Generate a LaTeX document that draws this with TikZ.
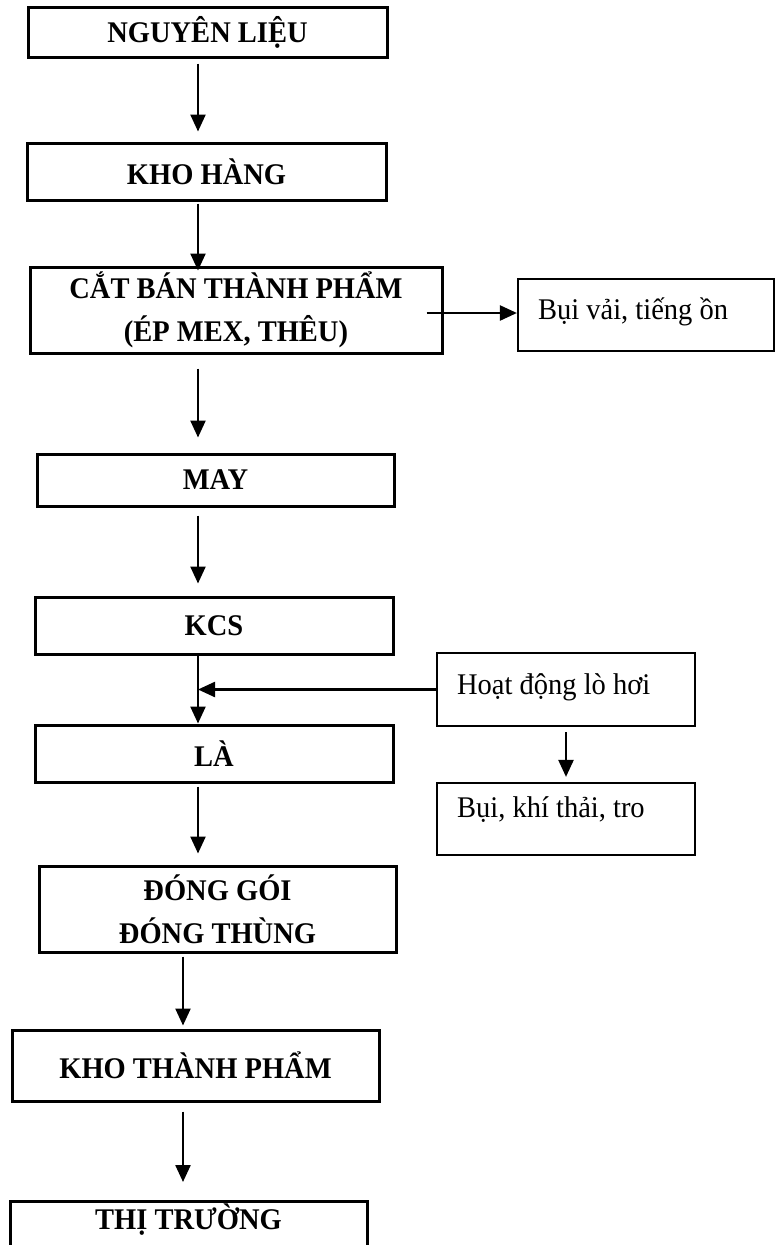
\documentclass[tikz,border=0pt]{standalone}
\usepackage{fontspec}
\setmainfont{Liberation Serif}[FakeStretch=0.95]
\usetikzlibrary{arrows.meta,calc}
\begin{document}
\begin{tikzpicture}[x=1pt,y=-1pt,
  mainbox/.style={draw, line width=3pt, inner sep=0pt, align=center,
    font=\fontsize{30}{43}\selectfont\bfseries},
  sidebox/.style={draw, line width=2.2pt, inner sep=0pt},
  sidetext/.style={anchor=west, inner sep=0pt, font=\fontsize{30}{36}\selectfont},
  arr/.style={line width=2.4pt, -{Triangle[length=17pt,width=15pt]}}]
\useasboundingbox (0,0) rectangle (776,1245);

% main column
\node[mainbox, minimum width=359pt, minimum height=50pt] (n1) at (207.5,32) {NGUYÊN LIỆU};
\node[mainbox, minimum width=359pt, minimum height=57pt] (n2) at (206.5,171.5) {KHO HÀNG};
\node[mainbox, minimum width=412pt, minimum height=86pt] (n3) at (236,310) {CẮT BÁN THÀNH PHẨM\\(ÉP MEX, THÊU)};
\node[mainbox, minimum width=357pt, minimum height=52pt] (may) at (215.5,480) {MAY};
\node[mainbox, minimum width=358pt, minimum height=57pt] (kcs) at (214,625.5) {KCS};
\node[mainbox, minimum width=358pt, minimum height=57pt] (la) at (214,753.5) {LÀ};
\node[mainbox, minimum width=357pt, minimum height=86pt] (dong) at (217.5,909) {ĐÓNG GÓI\\ĐÓNG THÙNG};
\node[mainbox, minimum width=367pt, minimum height=71pt] (ktp) at (195.5,1065.5) {KHO THÀNH PHẨM};
\node[mainbox, minimum width=357pt, text height=28pt, text depth=50pt, anchor=north] (thi) at (188.5,1200) {THỊ TRƯỜNG};

% side boxes
\node[sidebox, minimum width=256pt, minimum height=72pt] (n4) at (646,315) {};
\node[sidetext] (t4) at ([xshift=21pt,yshift=3pt]n4.west) {Bụi vải, tiếng ồn};
\node[sidebox, minimum width=258pt, minimum height=73pt] (hoat) at (566,689.5) {};
\node[sidetext] (thoat) at ([xshift=21pt,yshift=2pt]hoat.west) {Hoạt động lò hơi};
\node[sidebox, minimum width=258pt, minimum height=72pt] (bk) at (566,819) {};
\node[sidetext] (tbk) at ([xshift=21pt,yshift=9pt]bk.west) {Bụi, khí thải, tro};

% guide coordinates
\coordinate (ax) at (198,0);
\coordinate (bx) at (183,0);
\coordinate (cx) at (566,0);
\coordinate (a3s) at ([xshift=-17pt,yshift=-3pt]n3.east);

% connectors
\draw[arr, shorten <=5pt, shorten >=10pt] (n1.south -| ax) -- (n2.north -| ax);
\draw[arr, shorten <=2pt, shorten >=-5pt] (n2.south -| ax) -- (n3.north -| ax);
\draw[arr] (a3s) -- (n4.west |- a3s);
\draw[arr, shorten <=14pt, shorten >=15pt] (n3.south -| ax) -- (may.north -| ax);
\draw[arr, shorten <=8pt, shorten >=12pt] (may.south -| ax) -- (kcs.north -| ax);
\draw[arr] (kcs.south -| ax) -- (la.north -| ax);
\draw[arr] (hoat.west) -- (hoat.west -| ax);
\draw[arr, shorten <=5pt, shorten >=5pt] (hoat.south -| cx) -- (bk.north -| cx);
\draw[arr, shorten <=3pt, shorten >=11pt] (la.south -| ax) -- (dong.north -| ax);
\draw[arr, shorten <=3pt, shorten >=3pt] (dong.south -| bx) -- (ktp.north -| bx);
\draw[arr, shorten <=9pt, shorten >=18pt] (ktp.south -| bx) -- (thi.north -| bx);
\end{tikzpicture}
\end{document}
